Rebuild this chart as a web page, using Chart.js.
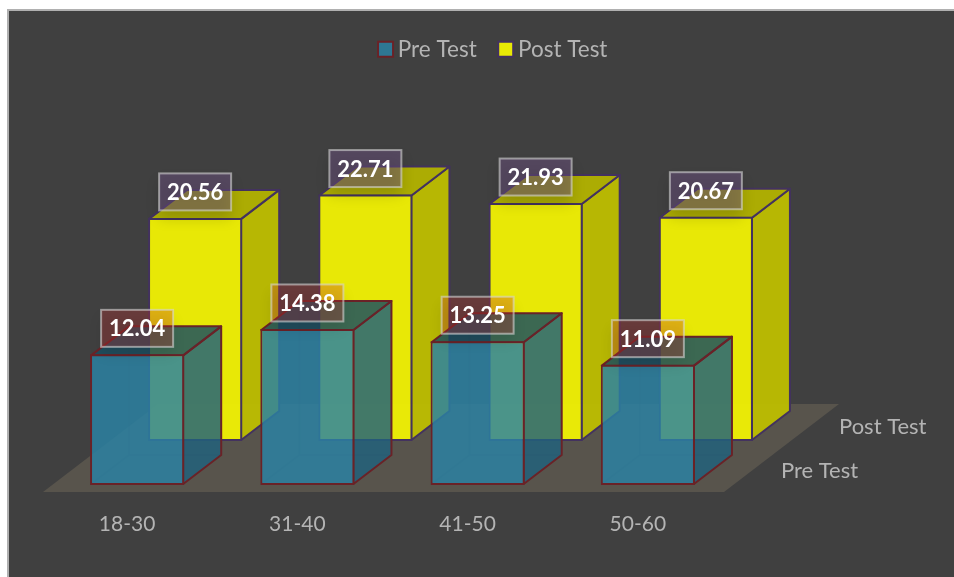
<!DOCTYPE html>
<html>
<head>
<meta charset="utf-8">
<style>
  html, body { margin: 0; padding: 0; background: #fff; }
  #wrap { position: absolute; left: 0; top: 0; width: 954px; height: 577px; }
</style>
</head>
<body>
<div id="wrap"><canvas id="chart" width="954" height="577"></canvas></div>
<script src="https://cdn.jsdelivr.net/npm/chart.js@4/dist/chart.umd.min.js"></script>
<script>
const ageGroups = ["18-30", "31-40", "41-50", "50-60"];
const preTest = [12.04, 14.38, 13.25, 11.09];
const postTest = [20.56, 22.71, 21.93, 20.67];
const seriesNames = ["Pre Test", "Post Test"];

const FONT = "Lato, 'Open Sans', sans-serif";
const TEXT = "#b4b4b4";

// look of each series: 3d faces and value box
const looks = [
    { side: "rgba(32,98,124,.83)", top: "rgba(25,78,97,.83)", edge: "#6a2227", inner: "rgba(70,50,60,.35)", box: "rgba(200,50,50,.3)" },
    { side: "rgba(190,190,0,.95)", top: "rgba(178,178,0,.95)", edge: "#43325f", inner: "rgba(0,0,0,0)", box: "rgba(106,80,126,.5)" }
];
const DEPTH = { x: 38, y: -29 };         // bar depth
const ROW_SHIFT = [{ x: 0, y: 0 }, { x: 58, y: -44 }];  // the Post Test row sits further back

const threeD = {
    id: "threeD",
    beforeDraw(chart) {
        const { ctx, width, height } = chart;
        ctx.save();
        ctx.fillStyle = "#b0b0b0";
        ctx.fillRect(7, 9, width - 7, height - 9);
        ctx.fillStyle = "#404040";
        ctx.fillRect(9, 11, width - 9, height - 11);
        ctx.restore();
    },
    beforeDatasetsDraw(chart) {
        // floor
        const { ctx, chartArea: a } = chart;
        ctx.save();
        ctx.fillStyle = "#58544c";
        ctx.beginPath();
        ctx.moveTo(a.left - 9, a.bottom + 7);
        ctx.lineTo(a.right - 9, a.bottom + 7);
        ctx.lineTo(a.right + 106, a.bottom - 81);
        ctx.lineTo(a.left + 106, a.bottom - 81);
        ctx.closePath();
        ctx.fill();
        ctx.restore();
    },
    beforeDatasetDraw(chart, args) {
        const { ctx } = chart;
        const look = looks[args.index];
        const shift = ROW_SHIFT[args.index];
        ctx.save();
        ctx.translate(shift.x, shift.y);
        args.meta.data.forEach(bar => {
            const l = bar.x - bar.width / 2 + 1, r = bar.x + bar.width / 2 - 1;
            const t = bar.y + 1, b = bar.base - 1;
            // back edges seen through the box
            ctx.strokeStyle = look.inner;
            ctx.lineWidth = 1.5;
            ctx.beginPath();
            ctx.moveTo(l, b);
            ctx.lineTo(l + DEPTH.x, b + DEPTH.y);
            ctx.lineTo(r + DEPTH.x, b + DEPTH.y);
            ctx.moveTo(l + DEPTH.x, b + DEPTH.y);
            ctx.lineTo(l + DEPTH.x, t + DEPTH.y);
            ctx.stroke();
            ctx.strokeStyle = look.edge;
            ctx.lineWidth = 2;
            ctx.lineJoin = "round";
            // right face
            ctx.fillStyle = look.side;
            ctx.beginPath();
            ctx.moveTo(r, t);
            ctx.lineTo(r + DEPTH.x, t + DEPTH.y);
            ctx.lineTo(r + DEPTH.x, b + DEPTH.y);
            ctx.lineTo(r, b);
            ctx.closePath();
            ctx.fill();
            ctx.stroke();
            // top face
            ctx.fillStyle = look.top;
            ctx.beginPath();
            ctx.moveTo(l, t);
            ctx.lineTo(l + DEPTH.x, t + DEPTH.y);
            ctx.lineTo(r + DEPTH.x, t + DEPTH.y);
            ctx.lineTo(r, t);
            ctx.closePath();
            ctx.fill();
            ctx.stroke();
        });
    },
    afterDatasetDraw(chart) {
        chart.ctx.restore();
    },
    afterDatasetsDraw(chart) {
        const { ctx, chartArea: a } = chart;
        ctx.save();
        // value boxes, back row first
        for (let i = 1; i >= 0; i--) {
            const meta = chart.getDatasetMeta(i);
            const values = chart.data.datasets[i].data;
            meta.data.forEach((bar, j) => {
                const cx = bar.x + ROW_SHIFT[i].x;
                const cy = bar.y + ROW_SHIFT[i].y - 26;
                // soft shadow under the box
                ctx.save();
                ctx.shadowColor = "rgba(0,0,0,.3)";
                ctx.shadowBlur = 14;
                ctx.shadowOffsetY = 8;
                ctx.fillStyle = looks[i].box;
                ctx.fillRect(cx - 36, cy - 18.5, 72, 37);
                ctx.restore();
                ctx.strokeStyle = "rgba(215,215,215,.6)";
                ctx.lineWidth = 2;
                ctx.strokeRect(cx - 36, cy - 18.5, 72, 37);
                ctx.fillStyle = "#fff";
                ctx.font = "bold 22px " + FONT;
                ctx.textAlign = "center";
                ctx.textBaseline = "middle";
                ctx.fillText(values[j].toFixed(2), cx, cy + 1);
            });
        }
        // depth axis names
        ctx.fillStyle = TEXT;
        ctx.font = "22px " + FONT;
        ctx.textAlign = "left";
        ctx.textBaseline = "middle";
        ctx.fillText(seriesNames[1], a.right + 106, a.bottom - 58);
        ctx.fillText(seriesNames[0], a.right + 48, a.bottom - 14);
        ctx.restore();
    }
};

new Chart(document.getElementById("chart"), {
    type: "bar",
    data: {
        labels: ageGroups,
        datasets: [
            { label: seriesNames[0], data: preTest, backgroundColor: "rgba(42,130,163,.83)", borderColor: looks[0].edge, borderWidth: 2, borderSkipped: false, grouped: false, barPercentage: 0.553, categoryPercentage: 1 },
            { label: seriesNames[1], data: postTest, backgroundColor: "rgba(241,241,3,.95)", borderColor: looks[1].edge, borderWidth: 2, borderSkipped: false, grouped: false, barPercentage: 0.553, categoryPercentage: 1 }
        ]
    },
    plugins: [threeD],
    options: {
        responsive: false,
        animation: false,
        layout: { padding: { left: 52, right: 14, top: 10 } },
        plugins: {
            tooltip: { enabled: false },
            legend: {
                position: "top",
                labels: {
                    color: TEXT,
                    font: { family: FONT, size: 22.5 },
                    usePointStyle: true,
                    pointStyle: "rect",
                    boxWidth: 2,
                    boxHeight: 15,
                    padding: 28
                }
            }
        },
        scales: {
            x: {
                grid: { display: false },
                border: { display: false },
                ticks: { color: TEXT, font: { family: FONT, size: 21 }, padding: 19, labelOffset: -10, maxRotation: 0 },
                afterFit(scale) { scale.height = 92; }
            },
            y: {
                position: "right",
                min: 0,
                max: 38.2,
                grid: { display: false },
                border: { display: false },
                ticks: { display: false },
                afterFit(scale) { scale.width = 207; }
            }
        }
    }
});
</script>
</body>
</html>
